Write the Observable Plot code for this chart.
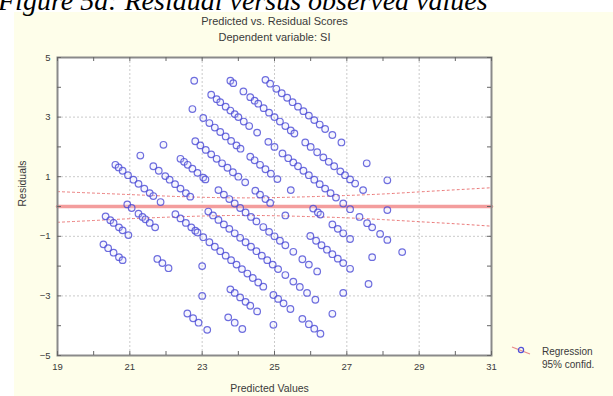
<!DOCTYPE html>
<html><head><meta charset="utf-8">
<script src="https://cdn.jsdelivr.net/npm/d3@7"></script>
<script src="https://cdn.jsdelivr.net/npm/@observablehq/plot@0.6"></script>
<style>
body{margin:0;background:#fff;width:613px;height:396px;overflow:hidden;position:relative;font-family:Arial,"Liberation Sans",sans-serif}
#panel{position:absolute;left:14px;top:12px;width:599px;height:384px;background:#fefeea}
#caption{position:absolute;left:-2px;top:-13px;font:italic 28px/28px "Liberation Serif",serif;color:#000;white-space:nowrap;z-index:3}
#chart{position:absolute;left:0;top:0;z-index:1}
#legend{position:absolute;left:510px;top:344px;z-index:2;font-size:10px;color:#3a3a3a;line-height:13px}
#legend svg{position:absolute;left:0;top:0}
#legend div{position:absolute;left:32px;white-space:nowrap}
</style></head><body>
<div id="panel"></div>
<div id="caption">Figure 5a: Residual versus observed values</div>
<div id="chart"></div>
<div id="legend"><svg width="24" height="14"><line x1="2" y1="3" x2="20" y2="10" stroke="#e88a8a" stroke-width="1.2"/><circle cx="11" cy="6" r="2.6" fill="none" stroke="#5050d8" stroke-width="1.2"/></svg><div style="top:1px">Regression</div><div style="top:14px">95% confid.</div></div>
<script>
// Axis ticks
const xTicks = [19, 21, 23, 25, 27, 29, 31];
const yTicks = [-5, -3, -1, 1, 3, 5];
const xMinor = [19, 20, 21, 22, 23, 24, 25, 26, 27, 28, 29, 30, 31];
const yMinor = [-5, -4, -3, -2, -1, 0, 1, 2, 3, 4, 5];

// Scatter: predicted values and residuals, grouped by diagonal streak
const pred29 = [24.75, 24.88, 25.05, 25.2, 25.35, 25.5, 25.65, 25.8, 25.95, 26.1, 26.25, 26.4, 26.6, 26.85, 27.55, 28.12];
const res29  = [4.25, 4.12, 3.95, 3.8, 3.65, 3.5, 3.35, 3.2, 3.05, 2.9, 2.75, 2.6, 2.4, 2.15, 1.45, 0.88];
const pred28 = [23.78, 23.86, 24.14, 24.33, 24.45, 24.55, 24.7, 24.85, 25.0, 25.15, 25.3, 25.45, 25.55, 25.85, 26.0, 26.18, 26.35, 26.5, 26.65, 26.82, 26.95, 27.09, 27.23, 27.45, 28.12];
const res28  = [4.22, 4.14, 3.86, 3.67, 3.55, 3.45, 3.3, 3.15, 3.0, 2.85, 2.7, 2.55, 2.45, 2.15, 2.0, 1.82, 1.65, 1.5, 1.35, 1.18, 1.05, 0.91, 0.77, 0.55, -0.12];
const pred27 = [22.78, 23.25, 23.4, 23.5, 23.65, 23.78, 23.9, 24.0, 24.15, 24.3, 24.52, 24.83, 25.0, 25.22, 25.38, 25.52, 25.65, 25.8, 25.95, 26.1, 26.25, 26.4, 26.55, 26.7, 26.9, 27.09, 27.35, 27.56, 27.7, 27.92, 28.12, 28.53];
const res27  = [4.22, 3.75, 3.6, 3.5, 3.35, 3.22, 3.1, 3.0, 2.85, 2.7, 2.48, 2.17, 2.0, 1.78, 1.62, 1.48, 1.35, 1.2, 1.05, 0.9, 0.75, 0.6, 0.45, 0.3, 0.1, -0.09, -0.35, -0.56, -0.7, -0.92, -1.12, -1.53];
const pred26 = [22.73, 23.03, 23.2, 23.35, 23.5, 23.65, 23.8, 23.95, 24.06, 24.33, 24.45, 24.6, 24.75, 24.9, 25.08, 25.45, 26.07, 26.2, 26.27, 26.6, 26.75, 26.9, 27.09, 27.7];
const res26  = [3.27, 2.97, 2.8, 2.65, 2.5, 2.35, 2.2, 2.05, 1.94, 1.67, 1.55, 1.4, 1.25, 1.1, 0.92, 0.55, -0.07, -0.2, -0.27, -0.6, -0.75, -0.9, -1.09, -1.7];
const pred25 = [22.81, 22.95, 23.1, 23.25, 23.4, 23.55, 23.7, 23.85, 24.0, 24.19, 24.47, 24.6, 24.75, 24.88, 25.3, 25.99, 26.15, 26.3, 26.45, 26.6, 26.75, 26.9, 27.09, 27.6];
const res25  = [2.19, 2.05, 1.9, 1.75, 1.6, 1.45, 1.3, 1.15, 1.0, 0.81, 0.53, 0.4, 0.25, 0.12, -0.3, -0.99, -1.15, -1.3, -1.45, -1.6, -1.75, -1.9, -2.09, -2.6];
const pred24 = [21.93, 22.4, 22.5, 22.6, 22.73, 22.87, 23.03, 23.09, 23.45, 23.6, 23.75, 23.9, 24.05, 24.2, 24.35, 24.5, 24.69, 24.85, 25.0, 25.15, 25.3, 25.52, 25.77, 25.95, 26.18, 26.9];
const res24  = [2.07, 1.6, 1.5, 1.4, 1.27, 1.13, 0.97, 0.91, 0.55, 0.4, 0.25, 0.1, -0.05, -0.2, -0.35, -0.5, -0.69, -0.85, -1.0, -1.15, -1.3, -1.52, -1.77, -1.95, -2.18, -2.9];
const pred23 = [21.29, 21.65, 21.8, 21.98, 22.1, 22.25, 22.4, 22.55, 22.67, 23.17, 23.3, 23.45, 23.6, 23.75, 23.9, 24.05, 24.2, 24.35, 24.5, 24.65, 24.8, 24.95, 25.1, 25.3, 25.52, 25.7, 25.9, 26.13, 26.6];
const res23  = [1.71, 1.35, 1.2, 1.02, 0.9, 0.75, 0.6, 0.45, 0.33, -0.17, -0.3, -0.45, -0.6, -0.75, -0.9, -1.05, -1.2, -1.35, -1.5, -1.65, -1.8, -1.95, -2.1, -2.3, -2.52, -2.7, -2.9, -3.13, -3.6];
const pred22 = [20.6, 20.69, 20.8, 20.95, 21.1, 21.24, 21.4, 21.55, 21.65, 21.85, 22.26, 22.4, 22.55, 22.7, 22.81, 22.87, 23.03, 23.2, 23.35, 23.5, 23.65, 23.8, 23.95, 24.1, 24.25, 24.4, 24.55, 24.69, 24.97, 25.1, 25.25, 25.44, 25.77, 25.95, 26.1, 26.27];
const res22  = [1.4, 1.31, 1.2, 1.05, 0.9, 0.76, 0.6, 0.45, 0.35, 0.15, -0.26, -0.4, -0.55, -0.7, -0.81, -0.87, -1.03, -1.2, -1.35, -1.5, -1.65, -1.8, -1.95, -2.1, -2.25, -2.4, -2.55, -2.69, -2.97, -3.1, -3.25, -3.44, -3.77, -3.95, -4.1, -4.27];
const pred21 = [20.93, 21.05, 21.24, 21.35, 21.43, 21.55, 21.7, 23.0, 23.78, 23.9, 24.05, 24.2, 24.33, 24.52, 24.97];
const res21  = [0.07, -0.05, -0.24, -0.35, -0.43, -0.55, -0.7, -2.0, -2.78, -2.9, -3.05, -3.2, -3.33, -3.52, -3.97];
const pred20 = [20.33, 20.46, 20.55, 20.7, 20.8, 20.96, 21.76, 21.9, 22.07, 23.0, 23.72, 23.9, 24.11];
const res20  = [-0.33, -0.46, -0.55, -0.7, -0.8, -0.96, -1.76, -1.9, -2.07, -3.0, -3.72, -3.9, -4.11];
const pred19 = [20.27, 20.4, 20.55, 20.7, 20.8, 22.59, 22.75, 22.9, 23.14];
const res19  = [-1.27, -1.4, -1.55, -1.7, -1.8, -3.59, -3.75, -3.9, -4.14];

// Regression line and 95% confidence band
const regX = [19, 31];
const regY = [0, 0];
const confX = [19, 20, 21, 22, 23, 24, 25, 26, 27, 28, 29, 30, 31];
const confUpper = [0.5, 0.45, 0.4, 0.35, 0.31, 0.29, 0.3, 0.33, 0.37, 0.42, 0.49, 0.56, 0.63];
const confLower = [-0.53, -0.47, -0.41, -0.36, -0.32, -0.3, -0.31, -0.34, -0.38, -0.44, -0.51, -0.58, -0.66];

const groups = [[pred29,res29],[pred28,res28],[pred27,res27],[pred26,res26],[pred25,res25],[pred24,res24],[pred23,res23],[pred22,res22],[pred21,res21],[pred20,res20],[pred19,res19]];
const points = groups.flatMap(([p, r]) => p.map((v, i) => ({pred: v, res: r[i]})));
const reg = regX.map((x, i) => ({x, y: regY[i]}));
const conf = confX.map((x, i) => ({x, up: confUpper[i], lo: confLower[i]}));

const W = 613, H = 396, mL = 57, mR = 122, mT = 57, mB = 41;
const fH = H - mT - mB, fW = W - mL - mR;
const txt = "#3a3a3a";

const chart = Plot.plot({
  width: W, height: H,
  marginLeft: mL, marginRight: mR, marginTop: mT, marginBottom: mB,
  style: {background: "transparent", fontFamily: "Arial, 'Liberation Sans', sans-serif", fontSize: "9.5px", color: txt},
  x: {domain: [19, 31]},
  y: {domain: [-5, 5]},
  marks: [
    Plot.frame({fill: "#ffffff", stroke: null}),
    Plot.gridX(xTicks.slice(1, -1), {stroke: "#cacaca", strokeOpacity: 1, strokeDasharray: "2,2"}),
    Plot.gridY(yTicks.slice(1, -1), {stroke: "#cacaca", strokeOpacity: 1, strokeDasharray: "2,2"}),
    Plot.line(reg, {x: "x", y: "y", stroke: "#f29292", strokeWidth: 3.5, strokeOpacity: 0.9}),
    Plot.line(conf, {x: "x", y: "up", curve: "natural", stroke: "#ea7676", strokeWidth: 1, strokeDasharray: "2,3"}),
    Plot.line(conf, {x: "x", y: "lo", curve: "natural", stroke: "#ea7676", strokeWidth: 1, strokeDasharray: "2,3"}),
    Plot.dot(points, {x: "pred", y: "res", r: 3.3, stroke: "#4a4ad6", strokeWidth: 1.2, strokeOpacity: 0.8, fill: "#dcdcfa", fillOpacity: 0.25}),
    Plot.frame({stroke: "#8a8a8a", strokeWidth: 2}),
    Plot.ruleX(xMinor, {insetTop: fH - 4, stroke: "#666"}),
    Plot.ruleX(xMinor, {insetBottom: fH - 4, stroke: "#666"}),
    Plot.ruleY(yMinor, {insetRight: fW - 4, stroke: "#666"}),
    Plot.ruleY(yMinor, {insetLeft: fW - 4, stroke: "#666"}),
    Plot.axisX(xTicks, {tickSize: 0, tickPadding: 8, label: null, fill: txt}),
    Plot.axisY(yTicks, {tickSize: 0, tickPadding: 7, label: null, fill: txt}),
    Plot.text(["Predicted vs. Residual Scores"], {frameAnchor: "top", dy: 17 - mT, fontSize: 11, fill: txt}),
    Plot.text(["Dependent variable: SI"], {frameAnchor: "top", dy: 33 - mT, fontSize: 11, fill: txt}),
    Plot.text(["Residuals"], {frameAnchor: "left", dx: 22 - mL, rotate: -90, fontSize: 10.5, fill: txt}),
    Plot.text(["Predicted Values"], {frameAnchor: "bottom", dx: -5, dy: 391 - (H - mB), fontSize: 10.5, fill: txt})
  ]
});
document.getElementById("chart").append(chart);
</script>
</body></html>
